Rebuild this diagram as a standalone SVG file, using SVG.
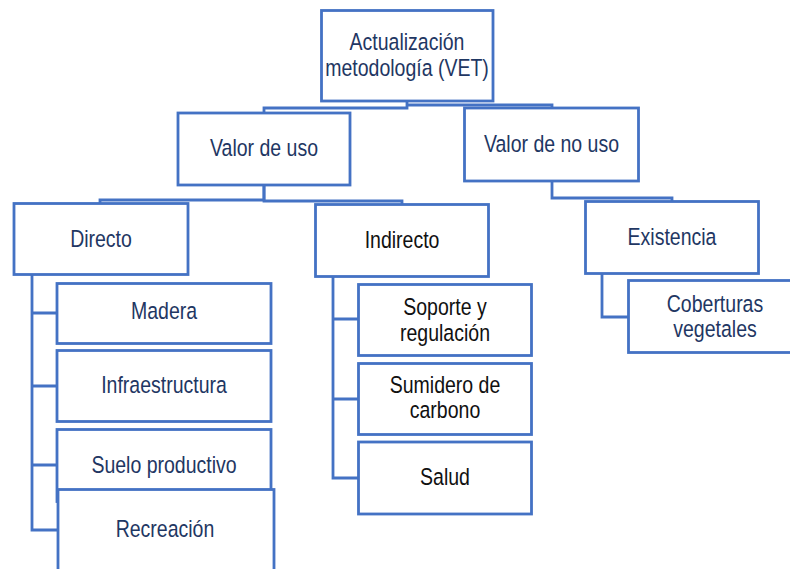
<svg xmlns="http://www.w3.org/2000/svg" width="790" height="569" viewBox="0 0 790 569">
<style>
  .box { fill: #ffffff; stroke: #4472c4; stroke-width: 2.8; }
  .conn { fill: none; stroke: #4472c4; stroke-width: 2.8; stroke-linejoin: miter; }
  text { font-family: "Liberation Sans", Arial, sans-serif; font-size: 23.5px; text-anchor: middle; fill: #1f3763; }
  text.k { fill: #111111; }
</style>
<rect width="790" height="569" fill="#ffffff"/>
<g id="connectors">
  <path class="conn" d="M407,101 V108 H264 V113"/>
  <path class="conn" d="M407,105 H552 V108"/>
  <path class="conn" d="M264,185 V200 H100 V203.5"/>
  <path class="conn" d="M264,185 V201 H402 V204.5"/>
  <path class="conn" d="M552,181 V198 H672 V201.5"/>
  <path class="conn" d="M602,273.5 V317 H628.5"/>
  <path class="conn" d="M32,274.5 V530 H58"/>
  <path class="conn" d="M32,313 H57 M32,386 H57 M32,465 H57"/>
  <path class="conn" d="M333,276.5 V478 H358.5"/>
  <path class="conn" d="M333,319 H358.5 M333,399 H358.5"/>
</g>
<g id="n-root">
  <rect class="box" x="321.5" y="10.5" width="171.5" height="90.5"/>
  <text transform="translate(407,50) scale(0.83,1)">Actualización</text>
  <text transform="translate(407,76) scale(0.83,1)">metodología (VET)</text>
</g>
<g id="n-valor-uso">
  <rect class="box" x="178" y="113" width="172" height="72"/>
  <text transform="translate(264,156) scale(0.83,1)">Valor de uso</text>
</g>
<g id="n-valor-no-uso">
  <rect class="box" x="464.5" y="108" width="174" height="73"/>
  <text transform="translate(551.5,152) scale(0.83,1)">Valor de no uso</text>
</g>
<g id="n-directo">
  <rect class="box" x="14" y="203.5" width="174" height="71"/>
  <text transform="translate(101,246.5) scale(0.83,1)">Directo</text>
</g>
<g id="n-indirecto">
  <rect class="box" x="315.5" y="204.5" width="173" height="72"/>
  <text class="k" transform="translate(402,248) scale(0.83,1)">Indirecto</text>
</g>
<g id="n-existencia">
  <rect class="box" x="585.5" y="201.5" width="173" height="72"/>
  <text transform="translate(672,245) scale(0.83,1)">Existencia</text>
</g>
<g id="n-coberturas">
  <rect class="box" x="628.5" y="280.5" width="174" height="72"/>
  <text transform="translate(715,311.5) scale(0.83,1)">Coberturas</text>
  <text transform="translate(715,336.5) scale(0.83,1)">vegetales</text>
</g>
<g id="n-madera">
  <rect class="box" x="57" y="283.5" width="214" height="60"/>
  <text transform="translate(164,319) scale(0.83,1)">Madera</text>
</g>
<g id="n-infraestructura">
  <rect class="box" x="57" y="350.5" width="214" height="71"/>
  <text transform="translate(164,392.5) scale(0.83,1)">Infraestructura</text>
</g>
<g id="n-suelo">
  <rect class="box" x="57" y="429.5" width="214" height="72"/>
  <text transform="translate(164,472.5) scale(0.83,1)">Suelo productivo</text>
</g>
<g id="n-recreacion">
  <rect class="box" x="58" y="489.5" width="216" height="84"/>
  <text transform="translate(165,536.5) scale(0.83,1)">Recreación</text>
</g>
<g id="n-soporte">
  <rect class="box" x="358.5" y="284.5" width="173" height="71"/>
  <text class="k" transform="translate(445,314.5) scale(0.83,1)">Soporte y</text>
  <text class="k" transform="translate(445,340.5) scale(0.83,1)">regulación</text>
</g>
<g id="n-sumidero">
  <rect class="box" x="358.5" y="363.5" width="173" height="71"/>
  <text class="k" transform="translate(445,392.5) scale(0.83,1)">Sumidero de</text>
  <text class="k" transform="translate(445,418) scale(0.83,1)">carbono</text>
</g>
<g id="n-salud">
  <rect class="box" x="358.5" y="442" width="173" height="72"/>
  <text class="k" transform="translate(445,485) scale(0.83,1)">Salud</text>
</g>
</svg>
